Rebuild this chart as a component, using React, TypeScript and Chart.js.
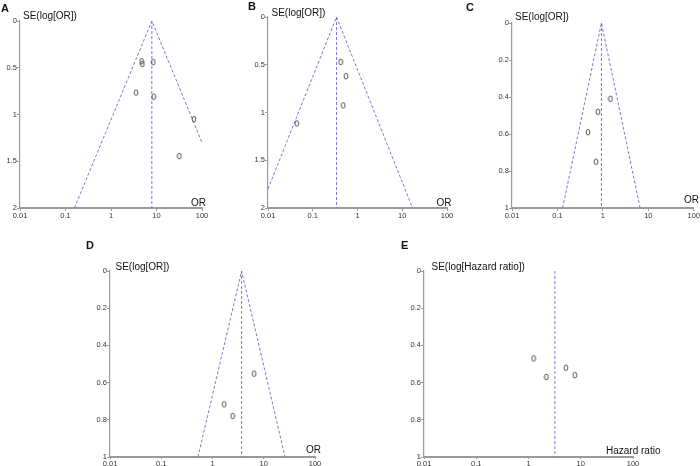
import React, { useEffect, useRef } from "react";
import { Chart, registerables } from "chart.js";
Chart.register(...registerables);

const X_TICKS = [0.01, 0.1, 1, 10, 100];
const X_TICK_LABELS = ["0.01", "0.1", "1", "10", "100"];
const Y_TICKS_2 = [0, 0.5, 1, 1.5, 2];
const Y_TICK_LABELS_2 = ["0", "0.5", "1", "1.5", "2"];
const Y_TICKS_1 = [0, 0.2, 0.4, 0.6, 0.8, 1];
const Y_TICK_LABELS_1 = ["0", "0.2", "0.4", "0.6", "0.8", "1"];

// Panel A
const A_OR = [4.7, 4.9, 8.5, 3.55, 8.7, 66.7, 31.8];
const A_SE = [0.43, 0.46, 0.44, 0.765, 0.81, 1.05, 1.445];
const A_POOLED = 7.9;
const A_FUNNEL_OR = [0.157, 7.9, 100];
const A_FUNNEL_SE = [2, 0, 1.3];

// Panel B
const B_OR = [0.42, 0.55, 0.48, 0.044];
const B_SE = [0.47, 0.62, 0.926, 1.115];
const B_POOLED = 0.34;
const B_FUNNEL_OR = [0.01, 0.34, 17];
const B_FUNNEL_SE = [1.8, 0, 2];

// Panel C
const C_OR = [1.47, 0.78, 0.47, 0.71];
const C_SE = [0.41, 0.48, 0.59, 0.75];
const C_POOLED = 0.93;
const C_FUNNEL_OR = [0.13, 0.93, 6.6];
const C_FUNNEL_SE = [1, 0, 1];

// Panel D
const D_OR = [6.5, 1.69, 2.47];
const D_SE = [0.552, 0.717, 0.78];
const D_POOLED = 3.7;
const D_FUNNEL_OR = [0.52, 3.7, 26];
const D_FUNNEL_SE = [1, 0, 1];

// Panel E
const E_HR = [1.25, 2.2, 5.2, 7.7];
const E_SE = [0.47, 0.57, 0.52, 0.56];
const E_POOLED = 3.2;

const FONT = "'Liberation Sans', Arial, Helvetica, sans-serif";
const FUNNEL_COLOR = "#7878d8";
const AXIS_COLOR = "#9a9a9a";

type PanelProps = {
  left: number;
  top: number;
  width: number;
  height: number;
  yAxisW: number;
  xAxisH: number;
  padTop: number;
  padRight: number;
  ymax: number;
  yTicks: number[];
  yLabels: string[];
  xs: number[];
  ys: number[];
  funnelX: number[] | null;
  funnelY: number[] | null;
  pooled: number;
  tickLen: number;
};

function makeMarker(): HTMLCanvasElement {
  const c = document.createElement("canvas");
  c.width = 6;
  c.height = 8;
  const g = c.getContext("2d")!;
  g.strokeStyle = "#444";
  g.lineWidth = 0.9;
  g.beginPath();
  g.ellipse(3, 4, 1.9, 2.8, 0, 0, Math.PI * 2);
  g.stroke();
  return c;
}

function Panel(p: PanelProps) {
  const ref = useRef<HTMLCanvasElement | null>(null);
  useEffect(() => {
    if (!ref.current) return;
    const marker = makeMarker();
    const datasets: any[] = [
      {
        data: p.xs.map((x, i) => ({ x, y: p.ys[i] })),
        showLine: false,
        pointStyle: marker,
        pointRadius: 3,
        order: 0,
      },
      {
        data: [
          { x: p.pooled, y: 0 },
          { x: p.pooled, y: p.ymax },
        ],
        showLine: true,
        borderColor: FUNNEL_COLOR,
        borderWidth: 1,
        borderDash: [3, 2],
        pointRadius: 0,
        fill: false,
        order: 1,
      },
    ];
    if (p.funnelX && p.funnelY) {
      datasets.push({
        data: p.funnelX.map((x, i) => ({ x, y: p.funnelY![i] })),
        showLine: true,
        borderColor: FUNNEL_COLOR,
        borderWidth: 1,
        borderDash: [3, 2],
        pointRadius: 0,
        fill: false,
        tension: 0,
        order: 2,
      });
    }
    const chart = new Chart(ref.current, {
      type: "scatter",
      data: { datasets },
      options: {
        responsive: false,
        animation: false,
        devicePixelRatio: 1,
        events: [],
        layout: { padding: { top: p.padTop, right: p.padRight, left: 0, bottom: 0 } },
        plugins: { legend: { display: false }, tooltip: { enabled: false } },
        scales: {
          x: {
            type: "logarithmic",
            position: "bottom",
            min: 0.01,
            max: 100,
            afterBuildTicks: (s: any) => {
              s.ticks = X_TICKS.map((v) => ({ value: v }));
            },
            afterFit: (s: any) => {
              s.height = p.xAxisH;
            },
            ticks: {
              autoSkip: false,
              maxRotation: 0,
              minRotation: 0,
              padding: 0,
              color: "#333",
              font: { size: 7.5, family: FONT },
              callback: (_v: any, i: number) => X_TICK_LABELS[i],
            },
            grid: {
              drawOnChartArea: false,
              drawTicks: true,
              tickLength: p.tickLen,
              color: AXIS_COLOR,
              lineWidth: 1,
            },
            border: { display: true, color: AXIS_COLOR, width: 2 },
          },
          y: {
            type: "linear",
            reverse: true,
            min: 0,
            max: p.ymax,
            afterBuildTicks: (s: any) => {
              s.ticks = p.yTicks.map((v) => ({ value: v }));
            },
            afterFit: (s: any) => {
              s.width = p.yAxisW;
            },
            ticks: {
              autoSkip: false,
              padding: 0,
              color: "#333",
              font: { size: 7.5, family: FONT },
              callback: (_v: any, i: number) => p.yLabels[i],
            },
            grid: {
              drawOnChartArea: false,
              drawTicks: true,
              tickLength: 3,
              color: AXIS_COLOR,
              lineWidth: 1,
            },
            border: { display: true, color: AXIS_COLOR, width: 1.2 },
          },
        },
      } as any,
    });
    return () => chart.destroy();
  }, []);
  return (
    <canvas
      ref={ref}
      width={p.width}
      height={p.height}
      style={{
        position: "absolute",
        left: p.left,
        top: p.top,
        width: p.width,
        height: p.height,
      }}
    />
  );
}

function Label(props: { text: string; left: number; top: number; size: number; bold?: boolean }) {
  return (
    <div
      style={{
        position: "absolute",
        left: props.left,
        top: props.top,
        fontFamily: FONT,
        fontSize: props.size,
        fontWeight: props.bold ? "bold" : "normal",
        lineHeight: 1,
        color: "#111",
        whiteSpace: "nowrap",
      }}
    >
      {props.text}
    </div>
  );
}

export default function App() {
  return (
    <div
      style={{
        position: "absolute",
        left: 0,
        top: 0,
        width: 700,
        height: 466,
        background: "#fff",
        overflow: "hidden",
      }}
    >
      <Panel
        left={0} top={0} width={215} height={222} yAxisW={20} xAxisH={14} padTop={21} padRight={13}
        ymax={2} yTicks={Y_TICKS_2} yLabels={Y_TICK_LABELS_2}
        xs={A_OR} ys={A_SE} funnelX={A_FUNNEL_OR} funnelY={A_FUNNEL_SE} pooled={A_POOLED} tickLen={3}
      />
      <Panel
        left={248} top={0} width={215} height={222} yAxisW={20} xAxisH={14} padTop={17} padRight={16}
        ymax={2} yTicks={Y_TICKS_2} yLabels={Y_TICK_LABELS_2}
        xs={B_OR} ys={B_SE} funnelX={B_FUNNEL_OR} funnelY={B_FUNNEL_SE} pooled={B_POOLED} tickLen={3}
      />
      <Panel
        left={492} top={0} width={208} height={222} yAxisW={20} xAxisH={14} padTop={23} padRight={5}
        ymax={1} yTicks={Y_TICKS_1} yLabels={Y_TICK_LABELS_1}
        xs={C_OR} ys={C_SE} funnelX={C_FUNNEL_OR} funnelY={C_FUNNEL_SE} pooled={C_POOLED} tickLen={3}
      />
      <Panel
        left={90} top={240} width={240} height={226} yAxisW={20} xAxisH={9} padTop={31} padRight={15}
        ymax={1} yTicks={Y_TICKS_1} yLabels={Y_TICK_LABELS_1}
        xs={D_OR} ys={D_SE} funnelX={D_FUNNEL_OR} funnelY={D_FUNNEL_SE} pooled={D_POOLED} tickLen={2}
      />
      <Panel
        left={404} top={240} width={245} height={226} yAxisW={20} xAxisH={9} padTop={31} padRight={16}
        ymax={1} yTicks={Y_TICKS_1} yLabels={Y_TICK_LABELS_1}
        xs={E_HR} ys={E_SE} funnelX={null} funnelY={null} pooled={E_POOLED} tickLen={2}
      />

      <Label text="A" left={1} top={2.5} size={11} bold />
      <Label text="SE(log[OR])" left={23} top={10.5} size={10} />
      <Label text="OR" left={191} top={197.5} size={10} />

      <Label text="B" left={248} top={0.5} size={11} bold />
      <Label text="SE(log[OR])" left={271.5} top={8} size={10} />
      <Label text="OR" left={436.5} top={197.5} size={10} />

      <Label text="C" left={466} top={1.5} size={11} bold />
      <Label text="SE(log[OR])" left={515} top={12} size={10} />
      <Label text="OR" left={684} top={195} size={10} />

      <Label text="D" left={86} top={240} size={11} bold />
      <Label text="SE(log[OR])" left={115.5} top={262} size={10} />
      <Label text="OR" left={306} top={445} size={10} />

      <Label text="E" left={401} top={240} size={11} bold />
      <Label text="SE(log[Hazard ratio])" left={431.5} top={262} size={10} />
      <Label text="Hazard ratio" left={606} top={445.5} size={10} />
    </div>
  );
}
